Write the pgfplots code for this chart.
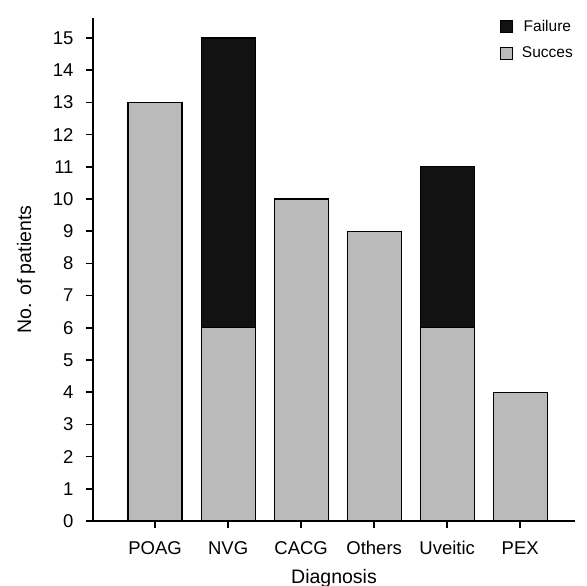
\documentclass[border=0pt]{standalone}
\usepackage{pgfplots}
\pgfplotsset{compat=1.18}
\usepackage{fontspec}
\setmainfont{Liberation Sans}
\definecolor{succ}{RGB}{186,186,186}
\definecolor{fail}{RGB}{18,18,18}
\begin{document}
\begin{tikzpicture}
\path[use as bounding box] (-93bp,-65bp) rectangle (494bp,521bp);
\begin{axis}[
  at={(0,0)}, anchor=south west,
  scale only axis,
  width=482bp, height=503bp,
  ybar stacked,
  bar width=54bp,
  axis lines*=left,
  axis line style={line width=1.6bp},
  tick style={line width=1.6bp, black},
  tick align=outside,
  major tick length=7bp,
  xmin=-0.85, xmax=5.75,
  ymin=0, ymax=15.62,
  xtick=data,
  xticklabels={POAG,NVG,CACG,Others,Uveitic,PEX},
  ytick={0,1,...,15},
  tick label style={font=\fontsize{18.5bp}{20bp}\selectfont},
  xticklabel style={yshift=-10bp},
  yticklabel style={xshift=-9bp},
  /pgf/number format/assume math mode=true,
  xlabel={Diagnosis},
  ylabel={No. of patients},
  xlabel style={font=\fontsize{19.5bp}{21bp}\selectfont,
    at={([yshift=-57bp]axis description cs:0.5,0)}, anchor=center},
  ylabel style={font=\fontsize{19.5bp}{21bp}\selectfont,
    at={([xshift=-67bp]axis description cs:0,0.5)}, anchor=center},
  legend style={draw=none, fill=none, at={(1,1)}, anchor=north east,
    inner sep=0pt, font=\fontsize{15.5bp}{17bp}\selectfont, row sep=10bp},
  legend image code/.code={\draw[#1, line width=0.8bp] (0bp,-6bp) rectangle (12bp,6bp); \path (19bp,0bp);},
  reverse legend,
]
\addplot[fill=succ, draw=black, line width=1.2bp] coordinates {(0,13) (1,6) (2,10) (3,9) (4,6) (5,4)};
\addplot[fill=fail, draw=black, line width=1.2bp] coordinates {(0,0) (1,9) (2,0) (3,0) (4,5) (5,0)};
\legend{Succes, Failure}
\end{axis}
\end{tikzpicture}
\end{document}
